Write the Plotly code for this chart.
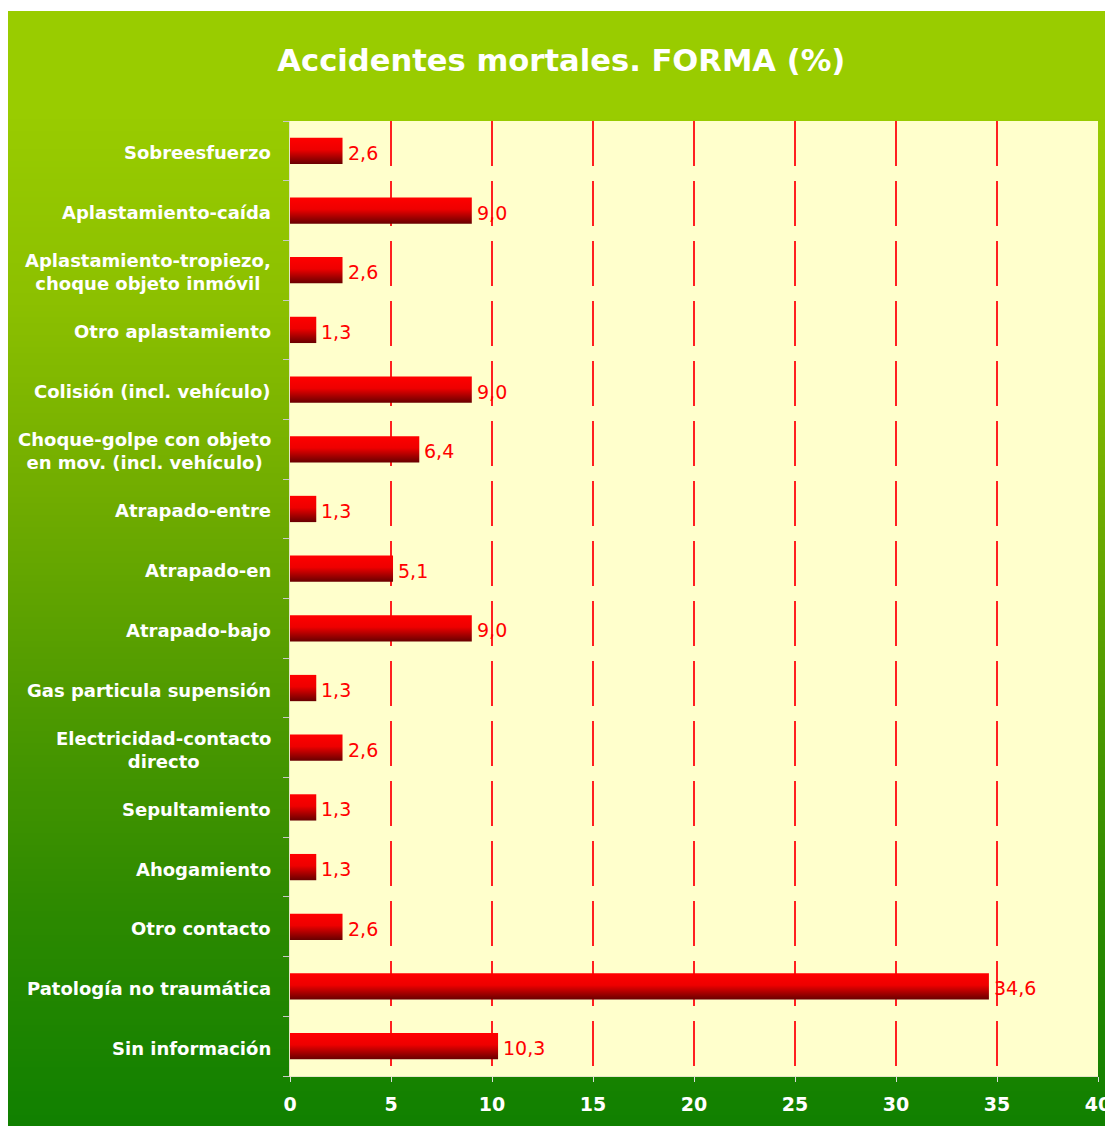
import plotly.graph_objects as go

categories = [
    "Sobreesfuerzo",
    "Aplastamiento-caída",
    "Aplastamiento-tropiezo,<br>choque objeto inmóvil",
    "Otro aplastamiento",
    "Colisión (incl. vehículo)",
    "Choque-golpe con objeto<br>en mov. (incl. vehículo)",
    "Atrapado-entre",
    "Atrapado-en",
    "Atrapado-bajo",
    "Gas particula supensión",
    "Electricidad-contacto<br>directo",
    "Sepultamiento",
    "Ahogamiento",
    "Otro contacto",
    "Patología no traumática",
    "Sin información",
]
values = [2.6, 9.0, 2.6, 1.3, 9.0, 6.4, 1.3, 5.1, 9.0, 1.3, 2.6, 1.3, 1.3, 2.6, 34.6, 10.3]
x_ticks = [0, 5, 10, 15, 20, 25, 30, 35, 40]

W, H = 1105, 1126
L, R, T, B = 290, 7, 121, 50
PW, PH = W - L - R, H - T - B

n = len(categories)
rows = [n - 1 - i for i in range(n)]  # first category at the top
half = 0.22

fig = go.Figure()

# bars with vertical gradient
for v, y in zip(values, rows):
    fig.add_trace(go.Scatter(
        x=[0, v, v, 0, 0],
        y=[y - half, y - half, y + half, y + half, y - half],
        mode="lines", fill="toself",
        line=dict(width=0),
        fillgradient=dict(type="vertical",
                          colorscale=[[0, "#680000"], [0.55, "#EE0000"], [1, "#FF0000"]]),
        hoverinfo="skip", showlegend=False,
    ))

# value labels
for v, y in zip(values, rows):
    fig.add_annotation(
        x=v, y=y, xref="x", yref="y", xanchor="left", yanchor="middle",
        xshift=3, yshift=-2,
        text=f"{v:.1f}".replace(".", ","), showarrow=False,
        font=dict(family="DejaVu Sans", size=19, color="#FF0000"),
    )

# category labels, centred lines like the original
for c, y in zip(categories, rows):
    fig.add_annotation(
        x=0, xref="paper", y=y, yref="y", xshift=-17, yshift=-2,
        text=c, showarrow=False, xanchor="right", yanchor="middle", align="center",
        font=dict(family="DejaVu Sans", size=18, color="white", weight="bold"),
    )

# green gradient background (pixel stops converted to paper coords)
stops = [(11, (153, 204, 0)), (110, (153, 204, 0)), (300, (140, 192, 0)),
         (500, (112, 172, 0)), (700, (79, 154, 0)), (900, (46, 138, 0)),
         (1126, (16, 128, 0))]


def col_at(py):
    for (y0, c0), (y1, c1) in zip(stops[:-1], stops[1:]):
        if y0 <= py <= y1:
            f = (py - y0) / (y1 - y0)
            return "rgb(%d,%d,%d)" % tuple(round(a + (b - a) * f) for a, b in zip(c0, c1))
    return "rgb(%d,%d,%d)" % stops[-1][1]


def px_to_paper_x(px):
    return (px - L) / PW


def px_to_paper_y(py):
    return (H - B - py) / PH


step = 6
py = 11
while py < H:
    fig.add_shape(
        type="rect", xref="paper", yref="paper", layer="below",
        x0=px_to_paper_x(8), x1=px_to_paper_x(W + 2),
        y0=px_to_paper_y(min(py + step + 1, H + 2)), y1=px_to_paper_y(py),
        fillcolor=col_at(py + step / 2), line=dict(width=0),
    )
    py += step

# plot area fill on top of the gradient
fig.add_shape(type="rect", xref="paper", yref="paper", layer="below",
              x0=0, x1=1, y0=0, y1=1, fillcolor="#FFFFCC", line=dict(width=0))

fig.update_layout(
    width=W, height=H,
    margin=dict(l=L, r=R, t=T, b=B, autoexpand=False),
    paper_bgcolor="white",
    plot_bgcolor="#FFFFCC",
    title=dict(
        text="Accidentes mortales. FORMA (%)",
        x=0.508, xref="container", xanchor="center",
        y=1 - 60 / H, yref="container", yanchor="middle",
        font=dict(family="DejaVu Sans", size=30.6, color="white", weight="bold"),
    ),
    xaxis=dict(
        range=[0, 40], tickvals=x_ticks, ticktext=[str(t) for t in x_ticks],
        showgrid=True, gridcolor="#FF2020", gridwidth=1.6, griddash="45px,15px",
        zeroline=False, showline=True, linecolor="#E6E6C8", linewidth=1,
        ticks="outside", ticklen=5, tickcolor="#DDDDDD",
        tickfont=dict(family="DejaVu Sans", size=19, color="white", weight="bold"),
        ticklabelstandoff=6, ticklabeloverflow="allow", automargin=False,
    ),
    yaxis=dict(
        range=[-0.5, n - 0.5], showgrid=False, zeroline=False,
        showticklabels=False, tickvals=[], automargin=False,
        showline=True, linecolor="#E6E6C8", linewidth=1,
        minor=dict(tickvals=[i - 0.5 for i in range(n + 1)], ticks="outside",
                   ticklen=6, tickcolor="#C8C8C8", showgrid=False),
    ),
    showlegend=False,
)

fig.write_html(
    "out.html",
    config={"displayModeBar": False},
    post_script="document.body.style.margin='0';document.body.style.overflow='hidden';",
)
